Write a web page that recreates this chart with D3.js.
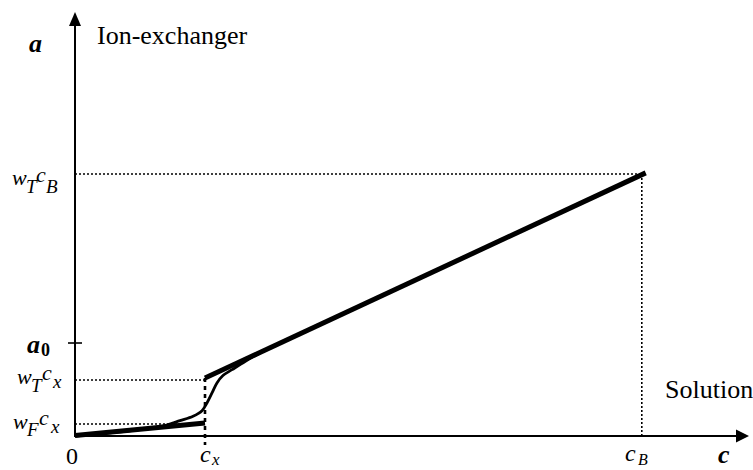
<!DOCTYPE html>
<html>
<head>
<meta charset="utf-8">
<script src="https://cdn.jsdelivr.net/npm/d3@7"></script>
<style>
  html, body { margin: 0; padding: 0; background: #fff; }
  svg { display: block; }
  text { font-family: "Liberation Serif", "Times New Roman", serif; fill: #000; }
</style>
</head>
<body>
<div id="chart"></div>
<script>
// ---- data (abstract units) ----
const cx = 1.0;          // c_x
const cB = 4.36;         // c_B
const wTcB = 2.015;      // w_T c_B
const a0 = 0.715;        // a_0
const wTcx = 0.431;      // w_T c_x
const wFcx = 0.092;      // w_F c_x
// thick broken isotherm: lower branch and upper branch
const lowerBranch = [[0, 0.003], [1.0, 0.10]];
const upperBranch = [[1.0, 0.446], [4.39, 2.023]];
// smooth S-shaped isotherm
const sCurve = [
  [0, 0.0], [0.5, 0.05], [0.69, 0.08], [0.808, 0.118], [0.908, 0.152],
  [0.977, 0.195], [1.015, 0.254], [1.054, 0.331], [1.092, 0.408],
  [1.138, 0.465], [1.208, 0.51], [1.308, 0.573], [1.423, 0.638]
];
const xDomain = [0, 5.2];
const yDomain = [0, 3.26];

// ---- drawing ----
const W = 753, H = 470;
const svg = d3.select("#chart").append("svg").attr("width", W).attr("height", H);
const x = d3.scaleLinear().domain(xDomain).range([75, 751]);
const y = d3.scaleLinear().domain(yDomain).range([436, 12]);

const dotted = { stroke: "#000", "stroke-width": 1.6, "stroke-dasharray": "2,2", fill: "none" };
function line(x1, y1, x2, y2, style) {
  const l = svg.append("line").attr("x1", x1).attr("y1", y1).attr("x2", x2).attr("y2", y2);
  for (const k in style) l.attr(k, style[k]);
  return l;
}

// dotted guides
line(x(0), y(wTcB), x(cB) + 3, y(wTcB), dotted);
line(x(cB), y(wTcB), x(cB), y(0), dotted);
line(x(0), y(wTcx), x(cx), y(wTcx), dotted);
line(x(0), y(wFcx), x(cx), y(wFcx), dotted);

// dashed vertical at c_x
line(x(cx), y(upperBranch[0][1]), x(cx), y(0) + 9,
  { stroke: "#000", "stroke-width": 2.6, "stroke-dasharray": "4,4", fill: "none" });

// axes
const axisStyle = { stroke: "#000", "stroke-width": 2, fill: "none" };
line(x(0), y(0), x(0), 25, axisStyle);
line(x(0) - 1, y(0), 738, y(0), axisStyle);
svg.append("path").attr("d", `M${x(0)},12 L${x(0) - 6},26 L${x(0) + 6},26 Z`).attr("fill", "#000");
svg.append("path").attr("d", `M749,${y(0)} L736,${y(0) - 6.5} L736,${y(0) + 6.5} Z`).attr("fill", "#000");

// a0 tick
line(x(0) - 7, y(a0), x(0) + 7, y(a0), { stroke: "#000", "stroke-width": 1.6 });

// curves
const lg = d3.line().x(d => x(d[0])).y(d => y(d[1]));
svg.append("path").datum(sCurve)
  .attr("d", lg.curve(d3.curveCatmullRom.alpha(0.5)))
  .attr("fill", "none").attr("stroke", "#000").attr("stroke-width", 2.8);
const lgs = d3.line().x(d => x(d[0])).y(d => y(d[1]));
svg.append("path").datum(lowerBranch).attr("d", lgs)
  .attr("fill", "none").attr("stroke", "#000").attr("stroke-width", 5);
svg.append("path").datum(upperBranch).attr("d", lgs)
  .attr("fill", "none").attr("stroke", "#000").attr("stroke-width", 5);

// text labels
function txt(xp, yp, s, opts) {
  const t = svg.append("text").attr("x", xp).attr("y", yp).text(s);
  t.attr("font-size", opts.size || 22);
  if (opts.italic) t.attr("font-style", "italic");
  if (opts.bold) t.attr("font-weight", "bold");
  if (opts.anchor) t.attr("text-anchor", opts.anchor);
  return t;
}
txt(97, 44, "Ion-exchanger", { size: 26 });
txt(665, 398, "Solution", { size: 26 });
txt(29, 52, "a", { size: 26, italic: true, bold: true });
txt(27, 353, "a", { size: 26, italic: true, bold: true });
txt(41, 356, "0", { size: 18, bold: true });
txt(718, 463, "c", { size: 26, italic: true, bold: true });
txt(66, 464, "0", { size: 24 });

// w_T c_B
txt(12, 185, "w", { size: 22, italic: true });
txt(26, 193, "T", { size: 19, italic: true });
txt(36, 181.5, "c", { size: 22, italic: true });
txt(46, 193, "B", { size: 19, italic: true });
// w_T c_x
txt(17, 384, "w", { size: 22, italic: true });
txt(31, 392, "T", { size: 19, italic: true });
txt(42, 380, "c", { size: 22, italic: true });
txt(53, 388, "x", { size: 19, italic: true });
// w_F c_x
txt(13, 429, "w", { size: 22, italic: true });
txt(27, 436, "F", { size: 19, italic: true });
txt(39, 425, "c", { size: 22, italic: true });
txt(51, 433, "x", { size: 19, italic: true });
// c_x, c_B on x-axis
txt(200, 462, "c", { size: 24, italic: true });
txt(212, 465, "x", { size: 17, italic: true });
txt(625, 461, "c", { size: 24, italic: true });
txt(638, 465, "B", { size: 16, italic: true });
</script>
</body>
</html>
